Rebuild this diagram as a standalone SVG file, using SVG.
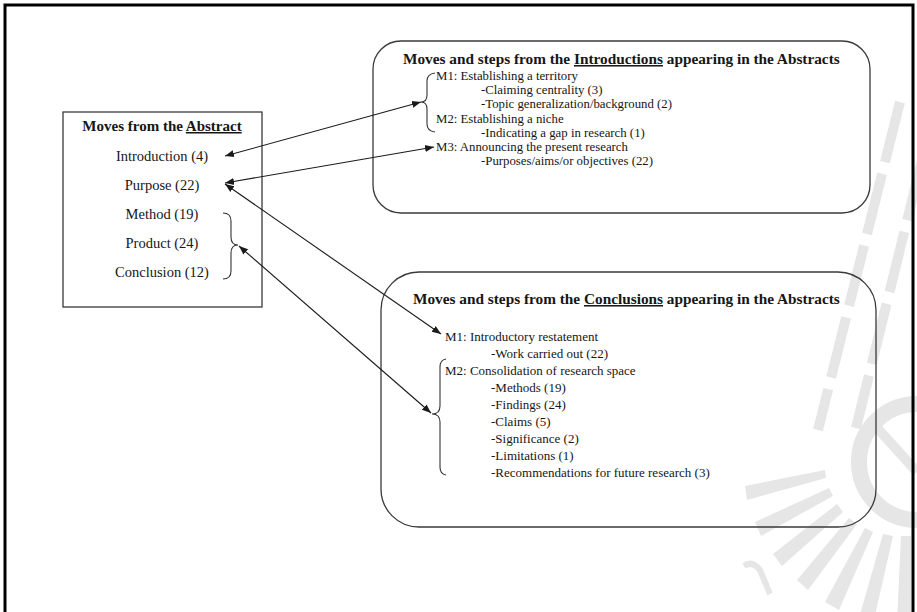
<svg xmlns="http://www.w3.org/2000/svg" width="917" height="612" viewBox="0 0 917 612">
  <style>
    text { font-family: "Liberation Serif", "Times New Roman", serif; fill: #161616; }
    .ttl { font-size: 15px; font-weight: bold; }
    .ttl2 { font-size: 15.3px; font-weight: bold; }
    .lbl { font-size: 14.5px; text-anchor: middle; }
    .s1 { font-size: 12.8px; }
    .s2 { font-size: 13px; }
    .u { text-decoration: underline; }
    .box { fill: none; stroke: #3a3a3a; stroke-width: 1.3; }
    .brace { fill: none; stroke: #333; stroke-width: 1.1; }
    .link { fill: none; stroke: #1a1a1a; stroke-width: 1.1; marker-start: url(#ah); marker-end: url(#ah); }
    .wm { fill: #e6e6e6; stroke: none; }
    .wms { fill: none; stroke: #e6e6e6; }
  </style>
  <defs>
    <marker id="ah" viewBox="0 0 10 10" refX="10" refY="5" markerWidth="9" markerHeight="9" markerUnits="userSpaceOnUse" orient="auto-start-reverse">
      <path d="M0,1 L10,5 L0,9 z" fill="#1a1a1a"/>
    </marker>
  </defs>

  <rect width="917" height="612" fill="#ffffff"/>

  <!-- faint crest in the background -->
  <g id="watermark">
    <path class="wms" stroke-width="10" stroke-dasharray="62 12" d="M900,102 L818,430"/>
    <path class="wms" stroke-width="10" stroke-dasharray="62 12" d="M922,160 L856,428"/>
    <circle class="wms" cx="917" cy="462" r="58" stroke-width="16"/>
    <path class="wms" stroke-width="10" d="M870,420 L917,472"/>
    <g transform="translate(905,452)">
      <polygon class="wm" points="-80,18 -160,34 -158,48 -79,26"/>
      <polygon class="wm" points="-76,36 -150,70 -144,84 -72,44"/>
      <polygon class="wm" points="-68,52 -132,102 -123,114 -62,60"/>
      <polygon class="wm" points="-56,66 -108,128 -97,138 -48,72"/>
      <polygon class="wm" points="-40,76 -80,150 -66,158 -32,80"/>
      <polygon class="wm" points="-22,82 -46,166 -31,168 -12,84"/>
      <polygon class="wm" points="-4,84 -8,170 6,170 6,84"/>
    </g>
    <path class="wms" stroke-width="6" d="M744,566 Q752,560 760,570 L770,594"/>
  </g>

  <!-- page frame -->
  <path d="M5,612 V5 H913 V612" fill="none" stroke="#000" stroke-width="3"/>

  <g id="abstract-moves">
    <rect class="box" x="63" y="112" width="199" height="195"/>
    <text class="ttl" x="162" y="131" text-anchor="middle">Moves from the <tspan class="u">Abstract</tspan></text>
    <text class="lbl" x="162" y="161">Introduction (4)</text>
    <text class="lbl" x="162" y="190">Purpose (22)</text>
    <text class="lbl" x="162" y="219">Method (19)</text>
    <text class="lbl" x="162" y="248">Product (24)</text>
    <text class="lbl" x="162" y="277">Conclusion (12)</text>
    <path class="brace" d="M223,213 Q231,213 231,221 L231,237 Q231,245 238,245 Q231,245 231,253 L231,271 Q231,279 223,279"/>
  </g>

  <g id="introduction-moves">
    <rect class="box" x="373" y="41" width="497" height="172" rx="28" ry="28"/>
    <text class="ttl2" x="403" y="64">Moves and steps from the <tspan class="u">Introductions</tspan> appearing in the Abstracts</text>
    <text class="s1" x="436" y="80">M1: Establishing a territory</text>
    <text class="s1" x="481" y="94">-Claiming centrality  (3)</text>
    <text class="s1" x="481" y="108">-Topic generalization/background  (2)</text>
    <text class="s1" x="436" y="123">M2: Establishing a niche</text>
    <text class="s1" x="481" y="137">-Indicating a gap in research (1)</text>
    <text class="s1" x="436" y="151">M3: Announcing the present research</text>
    <text class="s1" x="481" y="165">-Purposes/aims/or objectives  (22)</text>
    <path class="brace" d="M435,73 Q427,74 427,81 L427,95 Q427,102 421,102 Q427,102 427,109 L427,124 Q427,131 435,132"/>
  </g>

  <g id="conclusion-moves">
    <rect class="box" x="381" y="272" width="495" height="255" rx="38" ry="38"/>
    <text class="ttl2" x="413" y="304">Moves and steps from the <tspan class="u">Conclusions</tspan> appearing in the Abstracts</text>
    <text class="s2" x="445" y="341">M1: Introductory restatement</text>
    <text class="s2" x="491" y="358">-Work carried out (22)</text>
    <text class="s2" x="445" y="375">M2: Consolidation of research space</text>
    <text class="s2" x="491" y="392">-Methods (19)</text>
    <text class="s2" x="491" y="409">-Findings (24)</text>
    <text class="s2" x="491" y="426">-Claims (5)</text>
    <text class="s2" x="491" y="443">-Significance (2)</text>
    <text class="s2" x="491" y="460">-Limitations (1)</text>
    <text class="s2" x="491" y="477">-Recommendations for future research (3)</text>
    <path class="brace" d="M446,359 Q440,360 440,367 L440,406 Q440,414 432,414 Q440,414 440,422 L440,467 Q440,474 446,475"/>
  </g>

  <g id="connectors">
    <path class="link" d="M225,156 L421,102"/>
    <path class="link" d="M225,183 L434,147"/>
    <path class="link" d="M225,184 L441,334"/>
    <path class="link" d="M239,246 L431,413"/>
  </g>
</svg>
